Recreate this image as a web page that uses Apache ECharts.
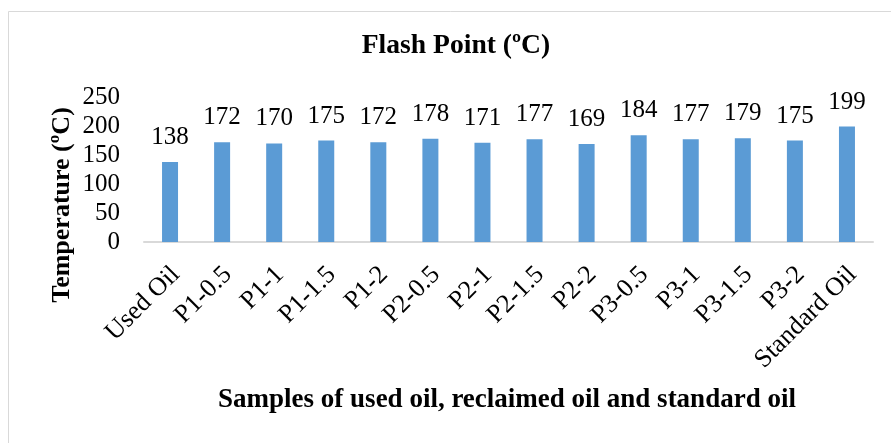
<!DOCTYPE html>
<html>
<head>
<meta charset="utf-8">
<script src="https://cdn.jsdelivr.net/npm/echarts@6/dist/echarts.min.js"></script>
<style>
html,body{margin:0;padding:0;background:#fff;}
#c{width:891px;height:443px;}
</style>
</head>
<body>
<div id="c"></div>
<script>
var categories = ["Used Oil","P1-0.5","P1-1","P1-1.5","P1-2","P2-0.5","P2-1","P2-1.5","P2-2","P3-0.5","P3-1","P3-1.5","P3-2","Standard Oil"];
var flashPoint = [138,172,170,175,172,178,171,177,169,184,177,179,175,199];
var yTicks = {min:0, max:250, interval:50};
var titleText = "Flash Point (ºC)";
var yTitle = "Temperature (ºC)";
var xTitle = "Samples of used oil, reclaimed oil and standard oil";

var FONT = "'Liberation Serif','Times New Roman',serif";
var chart = echarts.init(document.getElementById('c'), null, {renderer:'canvas'});
chart.setOption({
  animation:false,
  backgroundColor:'#fff',
  graphic:[
    {type:'rect', shape:{x:8.5,y:11.5,width:1000,height:1000}, style:{fill:'none', stroke:'#d9d9d9', lineWidth:1}, silent:true},
    {type:'text', x:456, y:46,
      style:{text:titleText, fontFamily:FONT, fontWeight:'bold', fontSize:27.6, fill:'#000', align:'center', verticalAlign:'middle'}},
    {type:'text', x:62, y:205, rotation:Math.PI/2,
      style:{text:yTitle, fontFamily:FONT, fontWeight:'bold', fontSize:26, fill:'#000', align:'center', verticalAlign:'middle'}},
    {type:'text', x:507, y:400,
      style:{text:xTitle, fontFamily:FONT, fontWeight:'bold', fontSize:27, fill:'#000', align:'center', verticalAlign:'middle'}}
  ],
  grid:{left:144, right:18, top:97, bottom:201, containLabel:false},
  xAxis:{
    type:'category', data:categories,
    axisLine:{show:true, lineStyle:{color:'#d9d9d9', width:2}},
    axisTick:{show:false},
    axisLabel:{rotate:45, interval:0, margin:16, padding:[0,5,0,0], verticalAlign:'top', fontFamily:FONT, fontSize:26, color:'#000'}
  },
  yAxis:{
    type:'value', min:yTicks.min, max:yTicks.max, interval:yTicks.interval,
    axisLine:{show:false}, axisTick:{show:false}, splitLine:{show:false},
    axisLabel:{margin:24, fontFamily:FONT, fontSize:25, color:'#000'}
  },
  series:[{
    type:'bar', data:flashPoint, barWidth:16,
    itemStyle:{color:'#5B9BD5'},
    label:{show:true, position:'top', distance:12, fontFamily:FONT, fontSize:25, color:'#000'}
  }]
});
</script>
</body>
</html>
